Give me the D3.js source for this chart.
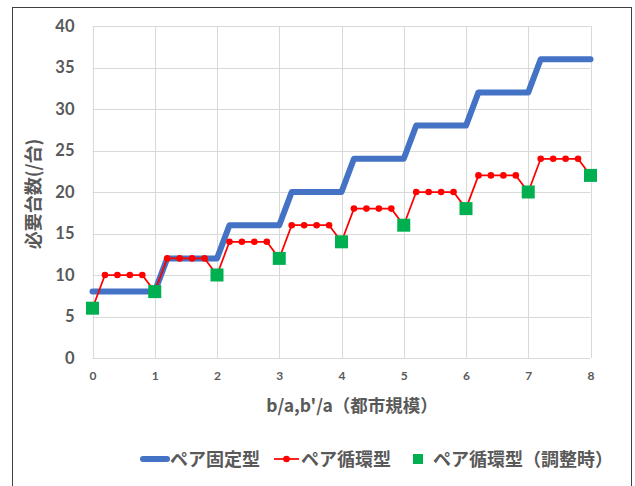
<!DOCTYPE html>
<html><head><meta charset="utf-8">
<script src="https://cdn.jsdelivr.net/npm/d3@7"></script>
<style>body{margin:0;background:#fff;} svg{display:block;}</style>
</head><body>
<script>
// Data
const xValues = [0,0.2,0.4,0.6,0.8,1,1.2,1.4,1.6,1.8,2,2.2,2.4,2.6,2.8,3,3.2,3.4,3.6,3.8,4,4.2,4.4,4.6,4.8,5,5.2,5.4,5.6,5.8,6,6.2,6.4,6.6,6.8,7,7.2,7.4,7.6,7.8,8];
const fixedPair = [8,8,8,8,8,8,12,12,12,12,12,16,16,16,16,16,20,20,20,20,20,24,24,24,24,24,28,28,28,28,28,32,32,32,32,32,36,36,36,36,36];
const cyclePair = [6,10,10,10,10,8,12,12,12,12,10,14,14,14,14,12,16,16,16,16,14,18,18,18,18,16,20,20,20,20,18,22,22,22,22,20,24,24,24,24,22];
const adjX = [0,1,2,3,4,5,6,7,8];
const adjusted = [6,8,10,12,14,16,18,20,22];
const xTicks = [0,1,2,3,4,5,6,7,8];
const yTicks = [0,5,10,15,20,25,30,35,40];
const seriesNames = ["ペア固定型","ペア循環型","ペア循環型（調整時）"];
const xTitle = "b/a,b'/a（都市規模）";
const yTitle = "必要台数(/台)";

const W = 635, H = 486;
const svg = d3.select("body").append("svg").attr("width", W).attr("height", H);
svg.append("rect").attr("x",12.5).attr("y",7.5).attr("width",619).attr("height",500)
  .attr("fill","#fff").attr("stroke","#404040").attr("stroke-width",1);

const x = d3.scaleLinear().domain([0,8]).range([92.5,590.5]);
const y = d3.scaleLinear().domain([0,40]).range([358,26]);
const txtCol = "#595959";
const jp = "'Noto Sans CJK JP', sans-serif";
const num = "Lato, 'Open Sans', sans-serif";

// grid
svg.append("g").selectAll("line").data(yTicks).join("line")
  .attr("x1",x(0)).attr("x2",x(8)).attr("y1",d=>Math.round(y(d))+0.5).attr("y2",d=>Math.round(y(d))+0.5)
  .attr("stroke","#D9D9D9").attr("stroke-width",1);
svg.append("g").selectAll("line").data(xTicks).join("line")
  .attr("y1",y(0)).attr("y2",y(40)).attr("x1",d=>Math.round(x(d))+0.5).attr("x2",d=>Math.round(x(d))+0.5)
  .attr("stroke","#D9D9D9").attr("stroke-width",1);

// axes labels via d3 axes
const yAxis = svg.append("g").attr("transform",`translate(${x(0)},0)`)
  .call(d3.axisLeft(y).tickValues(yTicks).tickSize(0).tickPadding(18));
yAxis.select(".domain").remove();
yAxis.selectAll("text").attr("font-family",num).attr("font-weight","bold").attr("font-size",16.5).attr("fill",txtCol);

const xAxis = svg.append("g").attr("transform",`translate(0,${y(0)})`)
  .call(d3.axisBottom(x).tickValues(xTicks).tickSize(0).tickPadding(13));
xAxis.select(".domain").remove();
xAxis.selectAll("text").attr("font-family",num).attr("font-weight","bold").attr("font-size",12).attr("fill",txtCol);

// titles
svg.append("text").attr("x",352).attr("y",412).attr("text-anchor","middle")
  .attr("font-family",jp).attr("font-weight","bold").attr("font-size",17.5).attr("fill",txtCol).text(xTitle);
svg.append("text").attr("transform","translate(40,194) rotate(-90)").attr("text-anchor","middle")
  .attr("font-family",jp).attr("font-weight","bold").attr("font-size",18).attr("fill",txtCol).text(yTitle);

// series
const line = d3.line().x(d=>x(d[0])).y(d=>y(d[1]));
const fixedData = xValues.map((v,i)=>[v,fixedPair[i]]);
const cycleData = xValues.map((v,i)=>[v,cyclePair[i]]);
svg.append("path").datum(fixedData).attr("d",line).attr("fill","none")
  .attr("stroke","#4472C4").attr("stroke-width",6).attr("stroke-linecap","round").attr("stroke-linejoin","round");
svg.append("path").datum(cycleData).attr("d",line).attr("fill","none")
  .attr("stroke","#FF0000").attr("stroke-width",1.75).attr("stroke-linejoin","round");
svg.append("g").selectAll("circle").data(cycleData).join("circle")
  .attr("cx",d=>x(d[0])).attr("cy",d=>y(d[1])).attr("r",3.3).attr("fill","#FF0000");
const sq = 13;
svg.append("g").selectAll("rect").data(adjX.map((v,i)=>[v,adjusted[i]])).join("rect")
  .attr("x",d=>x(d[0])-sq/2).attr("y",d=>y(d[1])-sq/2).attr("width",sq).attr("height",sq).attr("fill","#00B050");

// legend
const ly = 459;
svg.append("line").attr("x1",143).attr("x2",167).attr("y1",ly).attr("y2",ly)
  .attr("stroke","#4472C4").attr("stroke-width",6).attr("stroke-linecap","round");
svg.append("line").attr("x1",274).attr("x2",299).attr("y1",ly).attr("y2",ly).attr("stroke","#FF0000").attr("stroke-width",1.75);
svg.append("circle").attr("cx",286.5).attr("cy",ly).attr("r",3.3).attr("fill","#FF0000");
svg.append("rect").attr("x",413).attr("y",ly-5).attr("width",10).attr("height",10).attr("fill","#00B050");
const legText = [[170,seriesNames[0]],[301,seriesNames[1]],[433,seriesNames[2]]];
svg.append("g").selectAll("text").data(legText).join("text")
  .attr("x",d=>d[0]).attr("y",ly+6.5).attr("font-family",jp).attr("font-weight","bold").attr("font-size",18).attr("fill",txtCol)
  .text(d=>d[1]);
</script>
</body></html>
